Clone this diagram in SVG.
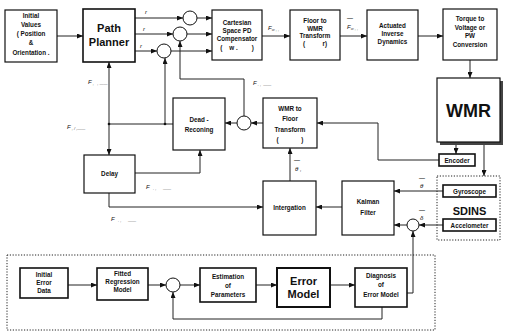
<svg xmlns="http://www.w3.org/2000/svg" width="505" height="332" viewBox="0 0 505 332">
<defs>
<marker id="ah" markerWidth="6" markerHeight="5" refX="6" refY="2.5" orient="auto" markerUnits="userSpaceOnUse">
<path d="M0,0 L6,2.5 L0,5 z" fill="#111"/>
</marker>
<style>
.box{fill:#fff;stroke:#111;stroke-width:1.2}
.bbox{fill:#fff;stroke:#111;stroke-width:2}
.sbox{fill:#fff;stroke:#111;stroke-width:1.6}
.dot{fill:none;stroke:#222;stroke-width:1;stroke-dasharray:1.2 1.6}
.ln{fill:none;stroke:#222;stroke-width:1}
.ar{fill:none;stroke:#222;stroke-width:1;marker-end:url(#ah)}
.sum{fill:#fff;stroke:#111;stroke-width:1}
text{font-family:"Liberation Sans",Arial,sans-serif;fill:#111;text-anchor:middle}
.t{font-size:6.3px;font-weight:bold}
.big{font-size:11px;font-weight:bold}
.huge{font-size:18px;font-weight:bold}
.lb{font-size:6px;font-style:italic;text-anchor:start}
.sub{font-size:4px;text-anchor:start;fill:#444}
</style>
</defs>
<rect width="505" height="332" fill="#fff"/>

<g id="connectors">
<path class="ar" d="M57,36 H83"/>
<path class="ar" d="M135,18 H183"/>
<path class="ar" d="M197,18 H212"/>
<path class="ar" d="M135,34 H173"/>
<path class="ar" d="M187,34 H212"/>
<path class="ar" d="M135,51 H157"/>
<path class="ar" d="M171,51 H212"/>
<path class="ar" d="M262,36 H290"/>
<path class="ar" d="M340,36 H367"/>
<path class="ar" d="M418,36 H443"/>
<path class="ar" d="M470,60 V78"/>
<path class="ar" d="M456,142 V154"/>
<path class="ar" d="M484,142 V176"/>
<path class="ar" d="M439,160 H378 V123 H317"/>
<path class="ar" d="M263,123 H251"/>
<path class="ar" d="M237,123 H225"/>
<path class="ar" d="M244,116 V79 H180 V41"/>
<path class="ln" d="M173,124 H109"/>
<path class="ar" d="M165,124 V58"/>
<path class="ar" d="M109,124 V62"/>
<path class="ar" d="M109,124 V155"/>
<circle cx="165" cy="124" r="1.3" fill="#111"/>
<circle cx="109" cy="124" r="1.3" fill="#111"/>
<path class="ar" d="M135,173 H200 V150"/>
<path class="ar" d="M109,193 V207 H263"/>
<path class="ar" d="M290,181 V148"/>
<path class="ar" d="M342,207 H316"/>
<path class="ar" d="M443,191 H394"/>
<path class="ar" d="M443,225 H419"/>
<path class="ar" d="M407,225 H394"/>
<path class="ar" d="M407,293 H413 V231"/>
<path class="ar" d="M68,285 H97"/>
<path class="ar" d="M148,285 H166"/>
<path class="ar" d="M180,285 H200"/>
<path class="ar" d="M256,285 H277"/>
<path class="ar" d="M330,285 H355"/>
<path class="ar" d="M382,307 V319 H173 V292"/>
</g>

<g id="labels">
<text class="lb" x="145" y="14">r</text>
<text class="lb" x="143" y="31">r</text>
<text class="lb" x="140" y="48">r</text>
<text class="lb" x="268" y="30">F<tspan class="sub" dy="1">w , ,</tspan></text>
<text class="lb" x="347" y="20">—</text>
<text class="lb" x="347" y="29">F<tspan class="sub" dy="1">w , ,</tspan></text>
<text class="lb" x="88" y="84" xml:space="preserve">F<tspan class="sub" dy="1"> ,   , ——</tspan></text>
<text class="lb" x="253" y="85" xml:space="preserve">F<tspan class="sub" dy="1"> . ,  ——</tspan></text>
<text class="lb" x="67" y="129" xml:space="preserve">F<tspan class="sub" dy="1"> , / ,——</tspan></text>
<text class="lb" x="146" y="189" xml:space="preserve">F<tspan class="sub" dy="1">   . ,      ——</tspan></text>
<text class="lb" x="111" y="221" xml:space="preserve">F<tspan class="sub" dy="1">   . ,      ——</tspan></text>
<text class="lb" x="294" y="162">—</text>
<text class="lb" x="295" y="171">θ ,</text>
<text class="lb" x="419" y="180">—</text>
<text class="lb" x="420" y="188">θ</text>
<text class="lb" x="419" y="212">—</text>
<text class="lb" x="420" y="220">δ</text>
</g>

<g id="sum1"><circle class="sum" cx="190" cy="18" r="7"/></g>
<g id="sum2"><circle class="sum" cx="180" cy="34" r="7"/></g>
<g id="sum3"><circle class="sum" cx="164" cy="51" r="7"/></g>
<g id="sum4"><circle class="sum" cx="244" cy="123" r="7"/></g>
<g id="sum5"><circle class="sum" cx="413" cy="225" r="6"/></g>
<g id="sum6"><circle class="sum" cx="173" cy="285" r="7"/></g>

<g id="initial-values">
<rect class="box" x="5" y="10" width="52" height="52"/>
<text class="t" x="31" y="18">Initial</text>
<text class="t" x="31" y="27">Values</text>
<text class="t" x="31" y="36">( Position</text>
<text class="t" x="31" y="45">&amp;</text>
<text class="t" x="31" y="54.5">Orientation .</text>
</g>

<g id="path-planner">
<rect class="sbox" x="83" y="9" width="52" height="53"/>
<text class="big" x="109" y="32">Path</text>
<text class="big" x="109" y="46">Planner</text>
</g>

<g id="cartesian">
<rect class="box" x="212" y="10" width="50" height="50"/>
<text class="t" x="237" y="25">Cartesian</text>
<text class="t" x="237" y="32.5">Space PD</text>
<text class="t" x="237" y="40.5">Compensator</text>
<text class="t" x="237" y="50" xml:space="preserve">(    w .        )</text>
</g>

<g id="floor-to-wmr">
<rect class="box" x="290" y="10" width="50" height="50"/>
<text class="t" x="315" y="23">Floor to</text>
<text class="t" x="315" y="30.5">WMR</text>
<text class="t" x="315" y="38">Transform</text>
<text class="t" x="315" y="46" xml:space="preserve">(          r)</text>
</g>

<g id="actuated">
<rect class="box" x="367" y="10" width="51" height="50"/>
<text class="t" x="392.5" y="28">Actuated</text>
<text class="t" x="392.5" y="36">Inverse</text>
<text class="t" x="392.5" y="44">Dynamics</text>
</g>

<g id="torque">
<rect class="box" x="443" y="9" width="54" height="51"/>
<text class="t" x="470" y="21">Torque to</text>
<text class="t" x="470" y="30">Voltage or</text>
<text class="t" x="470" y="38">PW</text>
<text class="t" x="470" y="47">Conversion</text>
</g>

<g id="wmr">
<rect x="440" y="81" width="63" height="64" fill="#444"/>
<rect class="box" x="437" y="78" width="63" height="64"/>
<text class="huge" x="468.5" y="117">WMR</text>
</g>

<g id="encoder">
<rect class="sbox" x="439" y="154" width="36" height="12"/>
<text class="t" x="457" y="162.5">Encoder</text>
</g>

<g id="sdins">
<rect class="dot" x="437" y="176" width="63" height="64"/>
<rect class="sbox" x="443" y="185" width="53" height="12"/>
<text class="t" x="469.5" y="193.5">Gyroscope</text>
<text class="big" x="469.5" y="215">SDINS</text>
<rect class="sbox" x="443" y="219" width="53" height="12"/>
<text class="t" x="469.5" y="227.5">Accelometer</text>
</g>

<g id="wmr-to-floor">
<rect class="box" x="263" y="98" width="54" height="50"/>
<text class="t" x="290" y="110.5">WMR  to</text>
<text class="t" x="290" y="120.5">Floor</text>
<text class="t" x="290" y="132">Transform</text>
<text class="t" x="290" y="142" xml:space="preserve">(             )</text>
</g>

<g id="dead-reconing">
<rect class="box" x="173" y="98" width="52" height="52"/>
<text class="t" x="199" y="121.5">Dead -</text>
<text class="t" x="199" y="131.5">Reconing</text>
</g>

<g id="delay">
<rect class="box" x="84" y="155" width="51" height="38"/>
<text class="t" x="109.5" y="175.5">Delay</text>
</g>

<g id="intergation">
<rect class="box" x="263" y="181" width="53" height="54"/>
<text class="t" x="289.5" y="209.5">Intergation</text>
</g>

<g id="kalman">
<rect class="box" x="342" y="181" width="52" height="54"/>
<text class="t" x="368" y="204">Kalman</text>
<text class="t" x="368" y="215">Filter</text>
</g>

<g id="error-modelling">
<rect class="dot" x="7" y="255" width="428" height="75"/>
</g>

<g id="initial-error">
<rect class="sbox" x="20" y="268" width="48" height="30"/>
<text class="t" x="44" y="277">Initial</text>
<text class="t" x="44" y="285">Error</text>
<text class="t" x="44" y="293">Data</text>
</g>

<g id="fitted">
<rect class="sbox" x="97" y="268" width="51" height="32"/>
<text class="t" x="122.5" y="276">Fitted</text>
<text class="t" x="122.5" y="284">Regression</text>
<text class="t" x="122.5" y="292">Model</text>
</g>

<g id="estimation">
<rect class="sbox" x="200" y="268" width="56" height="34"/>
<text class="t" x="228" y="279">Estimation</text>
<text class="t" x="228" y="288">of</text>
<text class="t" x="228" y="297">Parameters</text>
</g>

<g id="error-model">
<rect class="bbox" x="277" y="268" width="53" height="39"/>
<text class="big" x="303.5" y="285">Error</text>
<text class="big" x="303.5" y="298">Model</text>
</g>

<g id="diagnosis">
<rect class="sbox" x="355" y="268" width="52" height="39"/>
<text class="t" x="381" y="278">Diagnosis</text>
<text class="t" x="381" y="287">of</text>
<text class="t" x="381" y="297">Error Model</text>
</g>
</svg>
